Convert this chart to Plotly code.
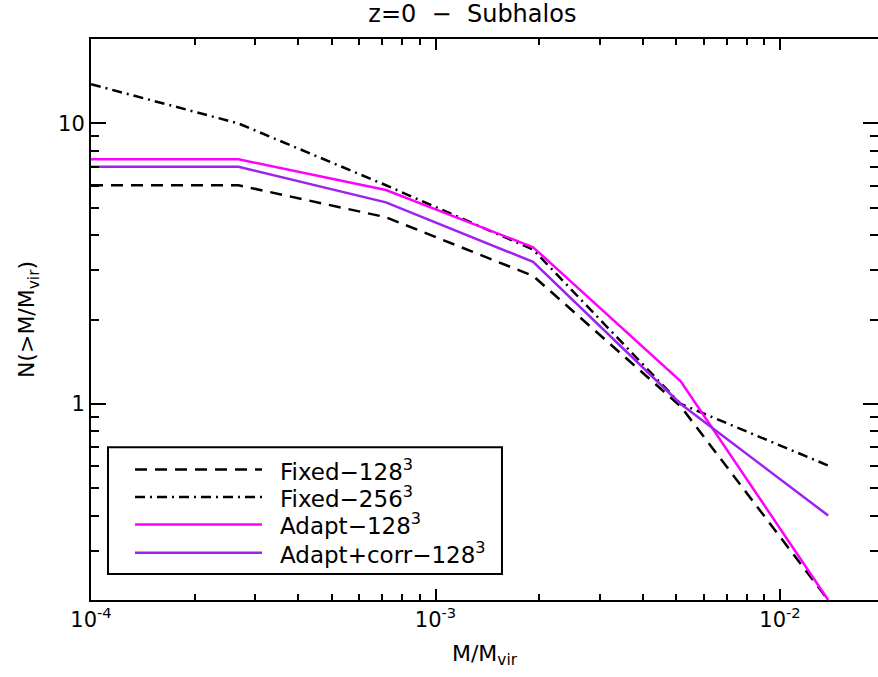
import numpy as np
import plotly.graph_objects as go

# Data
mass = [1.0e-4, 2.68e-4, 7.18e-4, 1.92e-3, 5.15e-3, 1.38e-2]
fixed_128 = [6.02, 6.02, 4.63, 2.86, 0.98, 0.20]
fixed_256 = [13.8, 10.0, 6.02, 3.55, 1.00, 0.603]
adapt_128 = [7.45, 7.45, 5.79, 3.62, 1.205, 0.20]
adapt_corr_128 = [7.01, 7.01, 5.23, 3.21, 1.00, 0.40]

x_tickvals = [1e-4, 1e-3, 1e-2]
x_ticktext = ["10<sup>-4</sup>", "10<sup>-3</sup>", "10<sup>-2</sup>"]
y_tickvals = [1, 10]
y_ticktext = ["1", "10"]

names = ["Fixed\u2212128<sup>3</sup>", "Fixed\u2212256<sup>3</sup>",
         "Adapt\u2212128<sup>3</sup>", "Adapt+corr\u2212128<sup>3</sup>"]
series = [fixed_128, fixed_256, adapt_128, adapt_corr_128]
colors = ["black", "black", "#FF00FF", "#A020F0"]
dashes = ["12px,8px", "10px,5px,2px,5px", "solid", "solid"]
widths = [2.5, 2.5, 2.5, 2.5]

FONT = "DejaVu Sans"

fig = go.Figure()
for n, s, c, d, w in zip(names, series, colors, dashes, widths):
    fig.add_trace(go.Scatter(x=mass, y=s, mode="lines", name=n,
                             line=dict(color=c, dash=d, width=w),
                             showlegend=False))

# invisible trace on yaxis2 for right-side ticks
fig.add_trace(go.Scatter(x=[mass[0]], y=[fixed_128[0]], yaxis="y2",
                         mode="lines", line=dict(width=0), showlegend=False,
                         hoverinfo="skip"))

x_log_range = [-4.0, -4.0 + 787 / 344.5]
y_log_range = [np.log10(0.2), np.log10(20)]

fig.update_layout(
    width=878, height=677,
    margin=dict(l=91, r=0, t=39, b=77),
    paper_bgcolor="white", plot_bgcolor="white",
    font=dict(family=FONT, color="black", size=18),
    title=dict(text="z=0  \u2212  Subhalos", x=0.538, xanchor="center",
               xref="container", yref="container",
               y=1 - 14 / 677, yanchor="middle", font=dict(size=24, family=FONT)),
    xaxis=dict(type="log", range=x_log_range, domain=[0, 1],
               tickmode="array", tickvals=x_tickvals, ticktext=x_ticktext,
               ticks="inside", ticklen=11, tickwidth=2, tickcolor="black",
               showline=True, linewidth=2, linecolor="black", mirror="ticks",
               showgrid=False, zeroline=False,
               tickfont=dict(size=21),
               minor=dict(ticks="inside", ticklen=6, tickwidth=1.5,
                          tickcolor="black", dtick="D1", showgrid=False),
               title=dict(text="M/M<sub>vir</sub>", font=dict(size=22), standoff=14)),
    yaxis=dict(type="log", range=y_log_range,
               tickmode="array", tickvals=y_tickvals, ticktext=y_ticktext,
               ticks="inside", ticklen=15, tickwidth=2, tickcolor="black",
               showline=True, linewidth=2, linecolor="black", mirror=False,
               showgrid=False, zeroline=False,
               tickfont=dict(size=21),
               minor=dict(ticks="inside", ticklen=8, tickwidth=1.5,
                          tickcolor="black", dtick="D1", showgrid=False),
               title=dict(text="N(>M/M<sub>vir</sub>)", font=dict(size=22), standoff=17)),
    yaxis2=dict(type="log", range=y_log_range, overlaying="y", side="right",
                tickmode="array", tickvals=y_tickvals,
                ticks="inside", ticklen=15, tickwidth=2, tickcolor="black",
                showline=False, showgrid=False, zeroline=False,
                showticklabels=False,
                minor=dict(ticks="inside", ticklen=8, tickwidth=1.5,
                           tickcolor="black", dtick="D1", showgrid=False)),
)

# Custom legend (plot-domain coordinates)
box = dict(x0=0.0216, x1=0.5222, y0=0.0463, y1=0.2722)
fig.add_shape(type="rect", xref="x domain", yref="y domain",
              line=dict(color="black", width=2), fillcolor="white", **box)
leg_y = [0.2326, 0.1838, 0.1347, 0.0842]
for n, c, d, w, ly in zip(names, colors, dashes, widths, leg_y):
    fig.add_shape(type="line", xref="x domain", yref="y domain",
                  x0=0.0559, x1=0.2173, y0=ly, y1=ly,
                  line=dict(color=c, dash=d, width=w))
    fig.add_annotation(xref="x domain", yref="y domain", x=0.2380, y=ly,
                       text=n, showarrow=False, xanchor="left", yanchor="middle",
                       font=dict(size=23, family=FONT))

fig.write_html("out.html", config={"displayModeBar": False},
               post_script="document.body.style.margin='0';"
                           "document.body.style.overflow='hidden';")
